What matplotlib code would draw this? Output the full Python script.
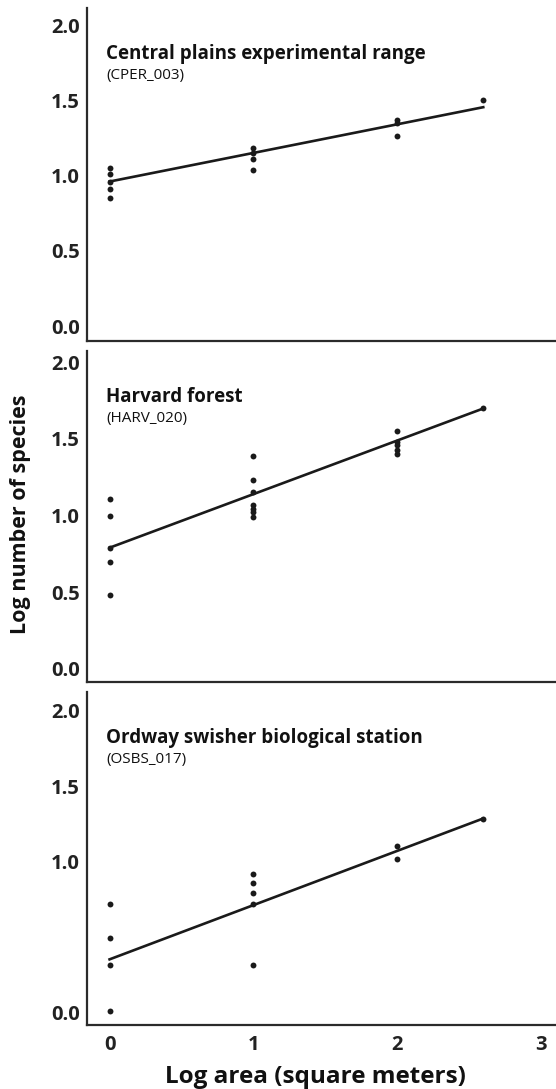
import numpy as np
import matplotlib
matplotlib.use("Agg")
import matplotlib.pyplot as plt

plt.rcParams["font.family"] = ["Open Sans", "DejaVu Sans"]

# sites
titles = ["Central plains experimental range", "Harvard forest",
          "Ordway swisher biological station"]
codes = ["(CPER_003)", "(HARV_020)", "(OSBS_017)"]

# log area values of each point, per site
cper_x = [0, 0, 0, 0, 0, 1, 1, 1, 1, 2, 2, 2, 2.6]
cper_y = [1.05, 1.01, 0.96, 0.91, 0.85, 1.18, 1.15, 1.11, 1.04, 1.37, 1.35, 1.26, 1.50]

harv_x = [0, 0, 0, 0, 0, 1, 1, 1, 1, 1, 1, 1, 2, 2, 2, 2, 2, 2.6]
harv_y = [1.11, 1.00, 0.79, 0.70, 0.48,
          1.39, 1.23, 1.15, 1.07, 1.04, 1.02, 0.99,
          1.55, 1.48, 1.46, 1.43, 1.40, 1.70]

osbs_x = [0, 0, 0, 0, 1, 1, 1, 1, 1, 2, 2, 2.6]
osbs_y = [0.72, 0.49, 0.31, 0.01, 0.92, 0.86, 0.79, 0.72, 0.31, 1.10, 1.02, 1.28]

xs = [cper_x, harv_x, osbs_x]
ys = [cper_y, harv_y, osbs_y]

# fitted lines (intercept, slope)
intercepts = [0.96, 0.79, 0.35]
slopes = [0.19, 0.349, 0.36]
fit_range = [0, 2.6]

y_ticks = [[0, 0.5, 1.0, 1.5, 2.0], [0, 0.5, 1.0, 1.5, 2.0], [0, 1.0, 1.5, 2.0]]
x_ticks = [0, 1, 2, 3]

W, H = 556, 1089
fig = plt.figure(figsize=(W / 100, H / 100), dpi=100)

# panel boxes in pixels: (top, bottom), and y limits
boxes = [(8, 340.5), (351, 682), (692, 1025)]
ylims = [(-0.096, 2.113), (-0.085, 2.072), (-0.086, 2.126)]
left_px = 87
ink = "#1a1a1a"

for i in range(3):
    top, bot = boxes[i]
    ax = fig.add_axes([left_px / W, 1 - bot / H, (W - left_px + 2) / W, (bot - top) / H])
    ax.set_xlim(-0.157, 3.12)
    ax.set_ylim(*ylims[i])
    for s in ["top", "right"]:
        ax.spines[s].set_visible(False)
    for s in ["left", "bottom"]:
        ax.spines[s].set_linewidth(1.6)
        ax.spines[s].set_color("#2b2b2b")

    ax.scatter(xs[i], ys[i], s=18, color=ink, zorder=3, linewidths=0)
    fx = np.array(fit_range)
    ax.plot(fx, intercepts[i] + slopes[i] * fx, color=ink, lw=1.9, zorder=2)

    ax.set_yticks(y_ticks[i])
    ax.set_yticklabels([f"{v:.1f}" for v in y_ticks[i]])
    ax.tick_params(axis="y", length=0, pad=5, labelsize=14.5, colors="#222222")
    for t in ax.get_yticklabels():
        t.set_fontweight("bold")

    ax.set_xticks(x_ticks)
    if i == 2:
        ax.tick_params(axis="x", length=0, pad=7, labelsize=14.5, colors="#222222")
        for t in ax.get_xticklabels():
            t.set_fontweight("bold")
    else:
        ax.tick_params(axis="x", length=0, labelbottom=False)

    tr = ax.get_xaxis_transform()
    ax.text(-0.025, 0.862, titles[i], transform=tr, ha="left", va="center",
            fontsize=13.5, fontweight="bold", color="#111111")
    ax.text(-0.025, 0.797, codes[i], transform=tr, ha="left", va="center",
            fontsize=11, color="#111111")

fig.text(21 / W, 1 - 514 / H, "Log number of species", rotation=90,
         ha="center", va="center", fontsize=15.5, fontweight="bold", color="#111111")
fig.text(315 / W, 1 - 1077 / H, "Log area (square meters)",
         ha="center", va="center", fontsize=17.5, fontweight="bold", color="#111111")

fig.savefig("out.png", dpi=100)
